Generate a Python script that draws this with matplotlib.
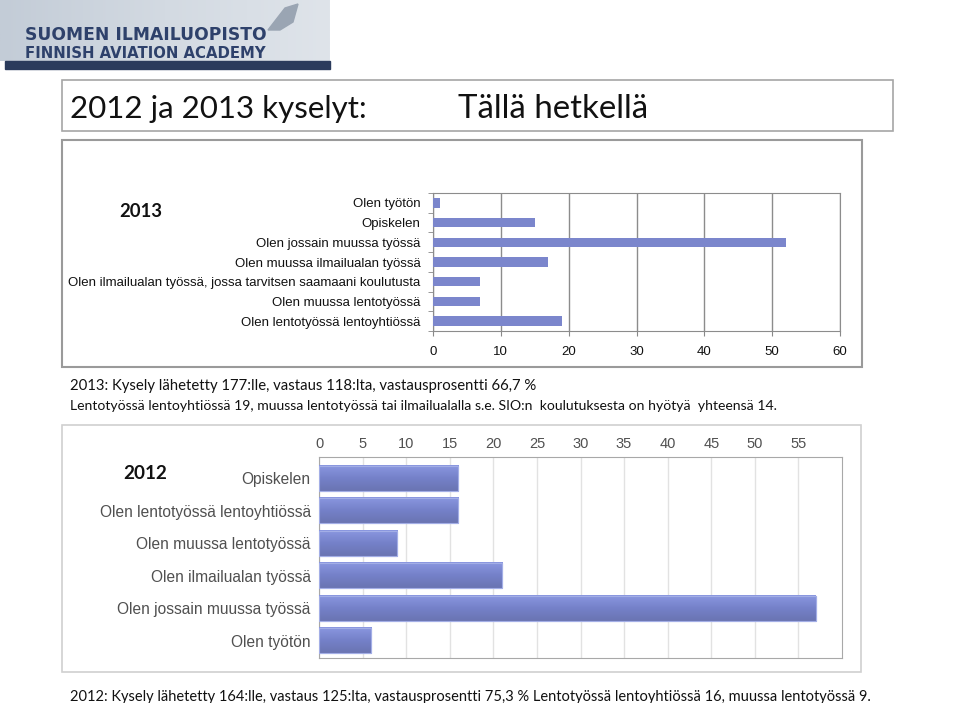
import numpy as np
import matplotlib.pyplot as plt
from matplotlib.patches import Rectangle, Polygon
from matplotlib.colors import LinearSegmentedColormap

# data / tiedot
cats_2013 = ['Olen työtön', 'Opiskelen', 'Olen jossain muussa työssä',
             'Olen muussa ilmailualan työssä',
             'Olen ilmailualan työssä, jossa tarvitsen saamaani koulutusta',
             'Olen muussa lentotyössä', 'Olen lentotyössä lentoyhtiössä']
vals_2013 = [1, 15, 52, 17, 7, 7, 19]
ticks_2013 = [0, 10, 20, 30, 40, 50, 60]

cats_2012 = ['Opiskelen', 'Olen lentotyössä lentoyhtiössä', 'Olen muussa lentotyössä',
             'Olen ilmailualan työssä', 'Olen jossain muussa työssä', 'Olen työtön']
vals_2012 = [16, 16, 9, 21, 57, 6]
ticks_2012 = [0, 5, 10, 15, 20, 25, 30, 35, 40, 45, 50, 55]

title_left = '2012 ja 2013 kyselyt:'
title_right = 'Tällä hetkellä'
note_2013_a = '2013: Kysely lähetetty 177:lle, vastaus 118:lta, vastausprosentti 66,7 %'
note_2013_b = ('Lentotyössä lentoyhtiössä 19, muussa lentotyössä tai ilmailualalla s.e. '
               'SIO:n  koulutuksesta on hyötyä  yhteensä 14.')
note_2012 = ('2012: Kysely lähetetty 164:lle, vastaus 125:lta, vastausprosentti 75,3 % '
             'Lentotyössä lentoyhtiössä 16, muussa lentotyössä 9.')

W, H = 960, 703
fig = plt.figure(figsize=(W / 100, H / 100), dpi=100)
fig.patch.set_facecolor('white')

# background axes in pixel coordinates / taustakoordinaatit pikseleinä
bg = fig.add_axes([0, 0, 1, 1])
bg.set_xlim(0, W)
bg.set_ylim(H, 0)
bg.axis('off')
renderer = fig.canvas.get_renderer()


def fit_text(x, y, s, width_px, **kw):
    # scale font so the text spans width_px / skaalaa fontti leveyteen
    t = bg.text(x, y, s, fontsize=10, **kw)
    w = t.get_window_extent(renderer).width
    t.set_fontsize(10 * width_px / w)
    return t


# logo
grad = np.linspace(0, 1, 256).reshape(1, -1)
logo_cmap = LinearSegmentedColormap.from_list('logo', ['#c3ccd7', '#d3dae2', '#dfe4ea'])
bg.imshow(grad, extent=[0, 330, 61, 0], cmap=logo_cmap, aspect='auto', zorder=0)
bg.add_patch(Rectangle((5, 61), 325, 8, color='#2b3b5c', zorder=1))
bg.add_patch(Polygon([[268, 30], [285, 8], [298, 4], [293, 22], [280, 30]],
                     closed=True, color='#9aa5b3', zorder=1))
fit_text(25, 40, 'SUOMEN ILMAILUOPISTO', 240, color='#2e416b', fontweight='bold',
         family='DejaVu Sans', va='baseline')
fit_text(25, 58.5, 'FINNISH AVIATION ACADEMY', 240, color='#2e416b', fontweight='bold',
         family='DejaVu Sans', va='baseline')

# boxes / laatikot
bg.add_patch(Rectangle((62, 80), 831, 51, fill=False, ec='#a6a6a6', lw=1.2))
bg.add_patch(Rectangle((62, 140), 800, 227, fill=False, ec='#9a9a9a', lw=1.5))
bg.add_patch(Rectangle((62, 425), 799, 247, fill=False, ec='#d0d0d0', lw=1.2))

# titles / otsikot
fit_text(70, 118, title_left, 297, family='Lato', color='#111111', va='baseline')
fit_text(458, 118, title_right, 190, family='Lato', color='#111111', va='baseline')
fit_text(119, 217, '2013', 43, family='Lato', fontweight='bold', color='#111111', va='baseline')
fit_text(123, 479, '2012', 44, family='Lato', fontweight='bold', color='#111111', va='baseline')

fit_text(70, 390, note_2013_a, 466, family='Lato', color='#111111', va='baseline')
fit_text(70, 410, note_2013_b, 707, family='Lato', color='#111111', va='baseline')
fit_text(70, 701, note_2012, 797, family='Lato', color='#111111', va='baseline')

# 2013 chart
ax1 = fig.add_axes([433 / W, (H - 331) / H, 407 / W, 138 / H])
y1 = np.arange(len(cats_2013))
ax1.barh(y1, vals_2013, height=0.48, color='#7b86cc', zorder=3)
ax1.set_xlim(0, 60)
ax1.set_ylim(6.42, -0.5)
ax1.set_xticks(ticks_2013)
ax1.set_yticks(y1)
ax1.set_yticklabels(cats_2013, family='Liberation Sans', fontsize=9.5, color='#111111')
ax1.set_xticklabels(ticks_2013, family='Liberation Sans', fontsize=9.5, color='#111111')
ax1.set_yticks(np.arange(len(cats_2013) + 1) - 0.5, minor=True)
ax1.tick_params(axis='y', which='major', length=0, pad=9)
ax1.tick_params(axis='y', which='minor', length=3.5, color='#888888')
ax1.tick_params(axis='x', length=3.5, color='#888888', pad=7)
ax1.grid(axis='x', color='#8c8c8c', lw=1.0, zorder=0)
for s in ax1.spines.values():
    s.set_color('#8c8c8c')
ax1.set_facecolor('white')

# 2012 chart
ax2 = fig.add_axes([319 / W, (H - 658) / H, 523 / W, 201 / H])
y2 = np.arange(len(cats_2012))
bars = ax2.barh(y2, vals_2012, height=0.77, color='#7884cc', ec='#a3aee6', lw=0.8, zorder=3)
bar_cmap = LinearSegmentedColormap.from_list('bar', ['#8a97e0', '#7581c9', '#6a74b2'])
vgrad = np.linspace(0, 1, 64).reshape(-1, 1)
for b in bars:
    x0, yb, w, h = b.get_x(), b.get_y(), b.get_width(), b.get_height()
    ax2.imshow(vgrad, extent=[x0, x0 + w, yb + h, yb], cmap=bar_cmap,
               aspect='auto', zorder=3.5, interpolation='bilinear')
    ax2.add_patch(Rectangle((x0, yb), w, h, fill=False, ec='#a3aee6', lw=0.8, zorder=4))
ax2.set_xlim(0, 60)
ax2.set_ylim(5.53, -0.66)
ax2.set_xticks(ticks_2012)
ax2.set_yticks(y2)
ax2.set_yticklabels(cats_2012, family='Liberation Sans', fontsize=11.2, color='#505050')
ax2.xaxis.tick_top()
ax2.set_xticklabels(ticks_2012, family='Liberation Sans', fontsize=10.5, color='#505050')
ax2.tick_params(axis='both', length=0)
ax2.tick_params(axis='y', pad=6)
ax2.tick_params(axis='x', pad=4)
ax2.grid(axis='x', color='#e2e2e2', lw=1.0, zorder=0)
for s in ax2.spines.values():
    s.set_color('#a8a8a8')
ax2.set_facecolor('white')

plt.savefig('out.png', dpi=100)
